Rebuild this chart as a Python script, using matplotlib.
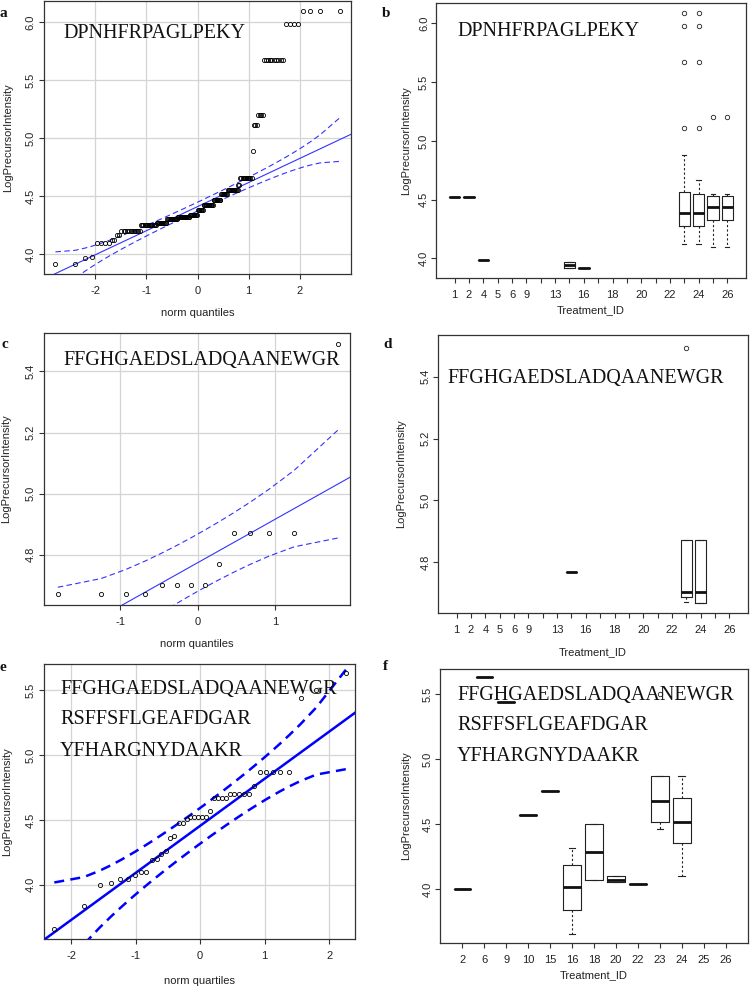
import numpy as np
import matplotlib
matplotlib.use("Agg")
import matplotlib.pyplot as plt
from statistics import NormalDist

# ---------------- data ----------------
# panel a: sorted LogPrecursorIntensity values (runs of equal values)
a_values = [3.92, 3.97, 3.98, 4.10, 4.12, 4.17, 4.20, 4.25, 4.27, 4.30, 4.32, 4.34,
            4.38, 4.42, 4.47, 4.52, 4.55, 4.60, 4.66, 4.89, 5.11, 5.20, 5.67, 5.98, 6.09]
a_counts = [2, 1, 1, 4, 2, 2, 12, 14, 12, 13, 17, 11,
            8, 14, 10, 8, 12, 2, 11, 1, 3, 4, 10, 4, 4]
peptide_a = "DPNHFRPAGLPEKY"

# panel c values
c_values = [4.67, 4.67, 4.67, 4.67, 4.70, 4.70, 4.70, 4.70, 4.77, 4.87, 4.87, 4.87, 4.87, 5.49]
peptide_c = "FFGHGAEDSLADQAANEWGR"

# panel e values
e_values = [3.66, 3.84, 4.00, 4.015, 4.044, 4.046, 4.074, 4.10, 4.10, 4.19, 4.20, 4.24,
            4.26, 4.36, 4.377, 4.475, 4.48, 4.506, 4.52, 4.52, 4.52, 4.52, 4.52, 4.57,
            4.67, 4.67, 4.67, 4.67, 4.70, 4.70, 4.70, 4.70, 4.70, 4.76, 4.87, 4.87,
            4.87, 4.87, 4.87, 5.44, 5.50, 5.63]
peptides_e = ["FFGHGAEDSLADQAANEWGR", "RSFFSFLGEAFDGAR", "YFHARGNYDAAKR"]

# treatments for panels b and d
treat_bd = [1, 2, 4, 5, 6, 9, 10, 13, 15, 16, 17, 18, 19, 20, 21, 22, 23, 24, 25, 26]
treat_bd_shown = ["1", "2", "4", "5", "6", "9", "", "13", "", "16", "", "18", "",
                  "20", "", "22", "", "24", "", "26"]

# panel b box statistics (by treatment)
b_treat = [1, 2, 4, 15, 16, 23, 24, 25, 26]
b_q1 = [4.52, 4.52, 3.983, 3.915, 3.918, 4.276, 4.276, 4.323, 4.323]
b_med = [4.52, 4.52, 3.983, 3.94, 3.918, 4.39, 4.39, 4.434, 4.434]
b_q3 = [4.52, 4.52, 3.983, 3.968, 3.918, 4.568, 4.548, 4.534, 4.534]
b_wlo = [4.52, 4.52, 3.983, 3.915, 3.918, 4.125, 4.125, 4.097, 4.097]
b_whi = [4.52, 4.52, 3.983, 3.968, 3.918, 4.88, 4.67, 4.548, 4.548]
b_fliers = [[], [], [], [], [], [5.11, 5.67, 5.98, 6.09], [5.11, 5.67, 5.98, 6.09], [5.20], [5.20]]

# panel d box statistics
d_treat = [15, 23, 24]
d_q1 = [4.768, 4.688, 4.669]
d_med = [4.768, 4.705, 4.705]
d_q3 = [4.768, 4.872, 4.872]
d_wlo = [4.768, 4.671, 4.669]
d_whi = [4.768, 4.872, 4.872]
d_fliers = [[], [5.493], []]

# panel f
treat_f = [2, 6, 9, 10, 15, 16, 18, 20, 22, 23, 24, 25, 26]
f_treat = [2, 6, 9, 10, 15, 16, 18, 20, 22, 23, 24]
f_q1 = [4.00, 5.63, 5.44, 4.575, 4.76, 3.84, 4.07, 4.055, 4.04, 4.515, 4.36]
f_med = [4.00, 5.63, 5.44, 4.575, 4.76, 4.02, 4.285, 4.075, 4.04, 4.68, 4.52]
f_q3 = [4.00, 5.63, 5.44, 4.575, 4.76, 4.19, 4.50, 4.10, 4.04, 4.87, 4.70]
f_wlo = [4.00, 5.63, 5.44, 4.575, 4.76, 3.66, 4.07, 4.055, 4.04, 4.465, 4.10]
f_whi = [4.00, 5.63, 5.44, 4.575, 4.76, 4.32, 4.50, 4.10, 4.04, 4.87, 4.87]
f_fliers = [[], [], [], [], [], [], [], [], [], [5.50], []]

# ---------------- style ----------------
plt.rcParams["font.family"] = ["Liberation Sans", "DejaVu Sans"]
plt.rcParams["axes.unicode_minus"] = False

W, H = 754, 991
fig = plt.figure(figsize=(W / 100, H / 100), dpi=100)
SERIF = "Liberation Serif"
FRAME = "#333333"
nd = NormalDist()


def add_axes(x0, y0, x1, y1):
    ax = fig.add_axes([x0 / W, 1 - y1 / H, (x1 - x0) / W, (y1 - y0) / H])
    for s in ax.spines.values():
        s.set_color(FRAME)
        s.set_linewidth(0.9)
    ax.tick_params(direction="out", length=3.5, width=0.8, color=FRAME,
                   labelsize=8, labelcolor="#222222")
    ax.tick_params(axis="x", pad=5.0)
    ax.tick_params(axis="y", pad=2.5, labelrotation=90)
    return ax


def style_labels(ax, xlabel, xlab_y, ylab_x):
    for lab in ax.get_yticklabels():
        lab.set_va("center")
    ax.set_xlabel(xlabel, fontsize=8, color="#222222")
    ax.set_ylabel("LogPrecursorIntensity", fontsize=8, color="#222222")
    ax.xaxis.set_label_coords(0.5, xlab_y)
    ax.yaxis.set_label_coords(ylab_x, 0.5)


def ppoints(n):
    a = 3 / 8 if n <= 10 else 0.5
    return (np.arange(1, n + 1) - a) / (n + 1 - 2 * a)


def qqplot(ax, values, lw, col, dash):
    x = np.sort(np.asarray(values, dtype=float))
    n = len(x)
    P = ppoints(n)
    z = np.array([nd.inv_cdf(p) for p in P])
    q1, q3 = np.quantile(x, [0.25, 0.75])
    z1, z3 = nd.inv_cdf(0.25), nd.inv_cdf(0.75)
    b = (q3 - q1) / (z3 - z1)
    a = q1 - b * z1
    dens = np.array([nd.pdf(v) for v in z])
    se = (b / dens) * np.sqrt(P * (1 - P) / n)
    fit = a + b * z
    zz = nd.inv_cdf(0.975)
    ax.axline((0, a), slope=b, color=col, lw=lw, zorder=3)
    ax.plot(z, fit + zz * se, color=col, lw=lw, ls=(0, dash), zorder=3)
    ax.plot(z, fit - zz * se, color=col, lw=lw, ls=(0, dash), zorder=3)
    ax.plot(z, x, ls="none", marker="o", ms=3.0, mfc="none", mec="black", mew=0.6, zorder=4)


def grid(ax):
    ax.grid(True, color="#d4d4d4", lw=0.9, zorder=0)
    ax.set_axisbelow(True)


def boxes(ax, cats, treat, q1, med, q3, wlo, whi, fl):
    stats = []
    pos = []
    for i, t in enumerate(treat):
        stats.append(dict(q1=q1[i], med=med[i], q3=q3[i], whislo=wlo[i], whishi=whi[i],
                          fliers=fl[i]))
        pos.append(cats.index(t) + 1)
    ax.bxp(stats, positions=pos, widths=0.8, capwidths=0.3, showfliers=True,
           boxprops=dict(color="#222222", lw=0.8),
           medianprops=dict(color="#111111", lw=2.0, solid_capstyle="butt"),
           whiskerprops=dict(color="#222222", lw=0.8, ls=(0, (2, 2))),
           capprops=dict(color="#222222", lw=0.8),
           flierprops=dict(marker="o", ms=3.2, mfc="none", mec="#222222", mew=0.6))


def cat_axis(ax, cats, shown):
    n = len(cats)
    ax.set_xticks(np.arange(1, n + 1))
    ax.set_xticklabels(shown)
    ax.set_xlim(0.5 - 0.04 * n, n + 0.5 + 0.04 * n)


def fig_text(x, y, s, size=14.5, **kw):
    fig.text(x / W, 1 - y / H, s, fontsize=size, va="baseline", ha="left", **kw)


THIN = "#3333ff"

# ---------------- panel a ----------------
ax = add_axes(44, 1, 351, 274)
grid(ax)
qqplot(ax, np.repeat(a_values, a_counts), 0.8, THIN, (5, 3))
ax.set_xlim(-3.0, 3.0)
ax.set_ylim(3.83, 6.18)
ax.set_xticks([-2, -1, 0, 1, 2])
ax.set_yticks([4.0, 4.5, 5.0, 5.5, 6.0])
ax.set_yticklabels(["4.0", "4.5", "5.0", "5.5", "6.0"])
style_labels(ax, "norm quantiles", -0.124, -0.10)

# ---------------- panel b ----------------
ax = add_axes(436, 3, 746, 278)
boxes(ax, treat_bd, b_treat, b_q1, b_med, b_q3, b_wlo, b_whi, b_fliers)
cat_axis(ax, treat_bd, treat_bd_shown)
ax.set_ylim(3.833, 6.174)
ax.set_yticks([4.0, 4.5, 5.0, 5.5, 6.0])
ax.set_yticklabels(["4.0", "4.5", "5.0", "5.5", "6.0"])
ax.tick_params(axis="y", pad=1.5)
style_labels(ax, "Treatment_ID", -0.10, -0.081)

# ---------------- panel c ----------------
ax = add_axes(44, 333, 350, 605)
grid(ax)
qqplot(ax, c_values, 0.8, THIN, (5, 3))
ax.set_xlim(-1.98, 1.96)
ax.set_ylim(4.635, 5.526)
ax.set_xticks([-1, 0, 1])
ax.set_yticks([4.8, 5.0, 5.2, 5.4])
style_labels(ax, "norm quantiles", -0.126, -0.106)

# ---------------- panel d ----------------
ax = add_axes(438, 335, 748, 613)
boxes(ax, treat_bd, d_treat, d_q1, d_med, d_q3, d_wlo, d_whi, d_fliers)
cat_axis(ax, treat_bd, treat_bd_shown)
ax.set_ylim(4.637, 5.534)
ax.set_yticks([4.8, 5.0, 5.2, 5.4])
ax.tick_params(axis="y", pad=1.5)
style_labels(ax, "Treatment_ID", -0.123, -0.104)

# ---------------- panel e ----------------
ax = add_axes(44, 664, 355, 939)
grid(ax)
qqplot(ax, e_values, 1.8, "#0000ff", (4, 2.5))
ax.set_xlim(-2.42, 2.40)
ax.set_ylim(3.582, 5.703)
ax.set_xticks([-2, -1, 0, 1, 2])
ax.set_yticks([4.0, 4.5, 5.0, 5.5])
style_labels(ax, "norm quartiles", -0.134, -0.101)

# ---------------- panel f ----------------
ax = add_axes(440, 669, 748, 943)
boxes(ax, treat_f, f_treat, f_q1, f_med, f_q3, f_wlo, f_whi, f_fliers)
cat_axis(ax, treat_f, [str(t) for t in treat_f])
ax.set_ylim(3.588, 5.694)
ax.set_yticks([4.0, 4.5, 5.0, 5.5])
ax.tick_params(axis="y", pad=1.5)
style_labels(ax, "Treatment_ID", -0.10, -0.095)

# ---------------- texts ----------------
fig_text(63, 38, peptide_a, family=SERIF, color="#111111")
fig_text(457, 36, peptide_a, family=SERIF, color="#111111")
fig_text(63, 365, peptide_c, family=SERIF, color="#111111")
fig_text(447, 383, peptide_c, family=SERIF, color="#111111")
for k, (yb_e, yb_f) in enumerate(zip([694, 724, 756], [700, 730, 761])):
    fig_text(60, yb_e, peptides_e[k], family=SERIF, color="#111111")
    fig_text(457, yb_f, peptides_e[k], family=SERIF, color="#111111")

for letter, (x, y) in zip("abcdef", [(0, 17), (382, 17), (1, 348), (383, 348), (0, 671), (383, 670)]):
    fig_text(x, y, letter, size=11, family=SERIF, weight="bold", color="#111111")

fig.savefig("out.png", dpi=100)
